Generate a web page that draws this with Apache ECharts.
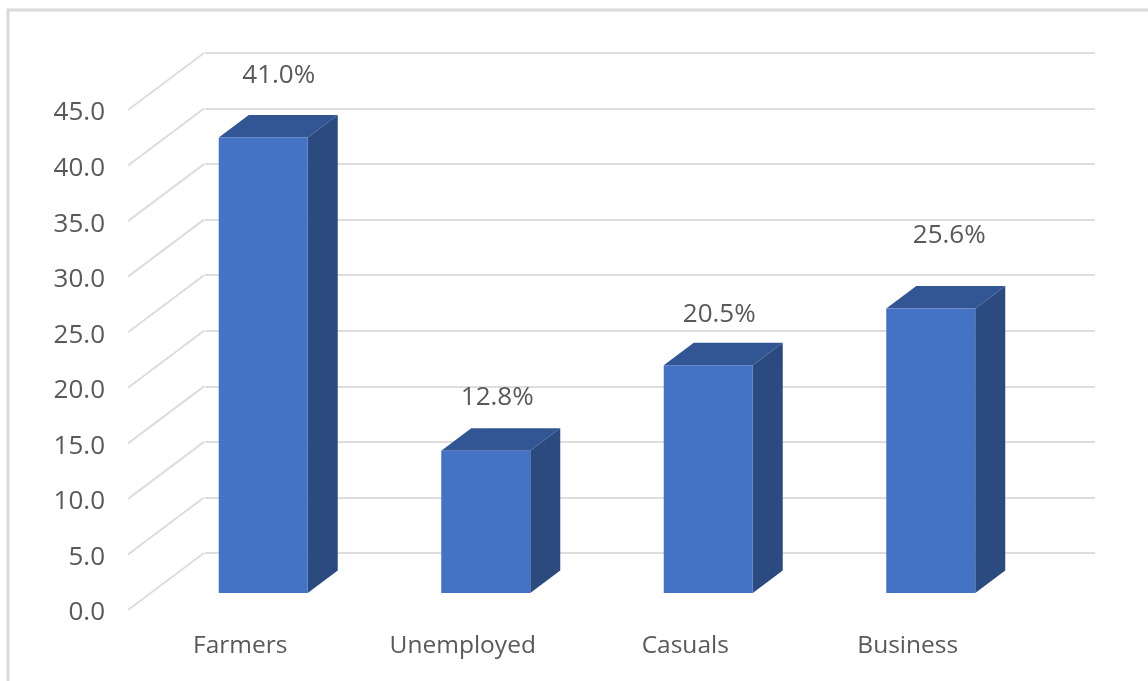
<!DOCTYPE html>
<html>
<head>
<meta charset="utf-8">
<style>html,body{margin:0;padding:0;background:#fff}#c{width:1148px;height:681px}</style>
<script src="https://cdn.jsdelivr.net/npm/echarts@6/dist/echarts.min.js"></script>
</head>
<body>
<div id="c"></div>
<script>
const categories = ['Farmers', 'Unemployed', 'Casuals', 'Business'];
const shares = [41.0, 12.8, 20.5, 25.6];
const yTicks = [0, 5, 10, 15, 20, 25, 30, 35, 40, 45];

const FONT = '"Open Sans"';
const TEXT = '#595959';
const GRIDLINE = '#DDDDDD';
const WALL = { dx: 76, dy: -57 };      // floor depth of the chart box
const BAR = { dx: 24, dy: -17, w: 89, depthX: 30, depthY: -22.5 };
const LABEL_SHIFT = [[15.5, -62], [11.5, -53], [11, -51], [18.5, -73]];

const chart = echarts.init(document.getElementById('c'), null, { renderer: 'canvas' });

function barItem(params, api) {
  const i = api.value(0), v = api.value(1);
  const top = api.coord([i, v]), base = api.coord([i, 0]);
  const l = top[0] + BAR.dx - BAR.w / 2, r = l + BAR.w;
  const t = top[1] + BAR.dy, b = base[1] + BAR.dy;
  const dx = BAR.depthX, dy = BAR.depthY;
  const s = LABEL_SHIFT[i];
  return {
    type: 'group',
    children: [
      { type: 'polygon', shape: { points: [[r, t], [r + dx, t + dy], [r + dx, b + dy], [r, b]] }, style: { fill: '#2B4A80' } },
      { type: 'polygon', shape: { points: [[l, t], [l + dx, t + dy], [r + dx, t + dy], [r, t]] }, style: { fill: '#325594' } },
      { type: 'rect', shape: { x: l, y: t, width: BAR.w, height: b - t }, style: { fill: '#4472C4' } },
      { type: 'text', style: {
          text: v.toFixed(1) + '%', x: l + BAR.w / 2 + s[0], y: t + s[1],
          align: 'center', verticalAlign: 'middle', fill: TEXT, font: '26px ' + FONT } }
    ]
  };
}

function diagonalItem(params, api) {
  const p = api.coord([0, api.value(0)]);
  const x = params.coordSys.x, y = p[1];
  return {
    type: 'line',
    shape: { x1: x, y1: y, x2: x + WALL.dx, y2: y + WALL.dy },
    style: { stroke: GRIDLINE, lineWidth: 2 }
  };
}

const yRange = { type: 'value', min: yTicks[0], max: yTicks[yTicks.length - 1], interval: 5,
  axisLine: { show: false }, axisTick: { show: false } };

chart.setOption({
  animation: false,
  backgroundColor: '#ffffff',
  graphic: [{
    type: 'rect', silent: true,
    shape: { x: 8, y: 10, width: 1300, height: 800 },
    style: { fill: 'none', stroke: '#D9D9D9', lineWidth: 3 }
  }],
  grid: [
    { left: 128, top: 110, width: 890, height: 500 },   // front plane
    { left: 205, top: 53, width: 890, height: 500 },    // back wall
    { left: 128, top: 113, width: 890, height: 500 }    // tick labels, nudged to sit as in the reference
  ],
  xAxis: [
    { type: 'category', gridIndex: 0, data: categories,
      axisLine: { show: false }, axisTick: { show: false }, splitLine: { show: false },
      axisLabel: { color: TEXT, fontFamily: FONT, fontSize: 24.5, margin: 23, padding: [1, 0, 0, 2] } },
    { type: 'category', gridIndex: 1, data: categories, show: false },
    { type: 'category', gridIndex: 2, data: categories, show: false }
  ],
  yAxis: [
    { ...yRange, gridIndex: 0, splitLine: { show: false }, axisLabel: { show: false } },
    { ...yRange, gridIndex: 1, axisLabel: { show: false },
      splitLine: { show: true, lineStyle: { color: GRIDLINE, width: 2 } } },
    { ...yRange, gridIndex: 2, splitLine: { show: false },
      axisLabel: { color: TEXT, fontFamily: FONT, fontSize: 26, margin: 23, formatter: v => v.toFixed(1) } }
  ],
  series: [
    { type: 'custom', xAxisIndex: 0, yAxisIndex: 0, silent: true, z: 1,
      data: yTicks.map(v => [v]), encode: { y: 0 }, renderItem: diagonalItem },
    { type: 'custom', xAxisIndex: 0, yAxisIndex: 0, silent: true, z: 3, clip: false,
      data: shares.map((v, i) => [i, v]), encode: { x: 0, y: 1 }, renderItem: barItem }
  ]
});
</script>
</body>
</html>
